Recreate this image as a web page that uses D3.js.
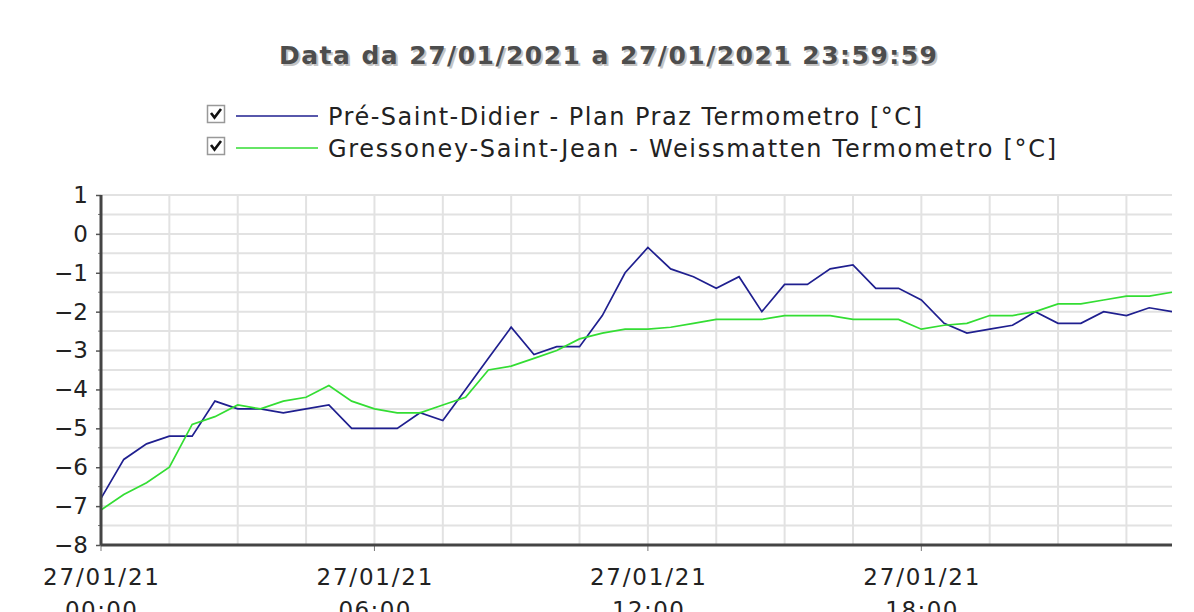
<!DOCTYPE html>
<html>
<head>
<meta charset="utf-8">
<script src="https://cdn.jsdelivr.net/npm/d3@7"></script>
<style>
  body { margin: 0; background: #fff; }
  svg { display: block; }
</style>
</head>
<body>
<svg id="chart"></svg>
<script>
const width = 1194;
const height = 612;

// half-hour readings of 27/01/2021
const times = ["00:00","00:30","01:00","01:30","02:00","02:30","03:00","03:30","04:00","04:30",
               "05:00","05:30","06:00","06:30","07:00","07:30","08:00","08:30","09:00","09:30",
               "10:00","10:30","11:00","11:30","12:00","12:30","13:00","13:30","14:00","14:30",
               "15:00","15:30","16:00","16:30","17:00","17:30","18:00","18:30","19:00","19:30",
               "20:00","20:30","21:00","21:30","22:00","22:30","23:00","23:30"];

const preSaintDidier = [-6.8,-5.8,-5.4,-5.2,-5.2,-4.3,-4.5,-4.5,-4.6,-4.5,
                        -4.4,-5.0,-5.0,-5.0,-4.6,-4.8,-4.0,-3.2,-2.4,-3.1,
                        -2.9,-2.9,-2.1,-1.0,-0.35,-0.9,-1.1,-1.4,-1.1,-2.0,
                        -1.3,-1.3,-0.9,-0.8,-1.4,-1.4,-1.7,-2.3,-2.55,-2.45,
                        -2.35,-2.0,-2.3,-2.3,-2.0,-2.1,-1.9,-2.0];

const gressoney = [-7.1,-6.7,-6.4,-6.0,-4.9,-4.7,-4.4,-4.5,-4.3,-4.2,
                   -3.9,-4.3,-4.5,-4.6,-4.6,-4.4,-4.2,-3.5,-3.4,-3.2,
                   -3.0,-2.7,-2.55,-2.45,-2.45,-2.4,-2.3,-2.2,-2.2,-2.2,
                   -2.1,-2.1,-2.1,-2.2,-2.2,-2.2,-2.45,-2.35,-2.3,-2.1,
                   -2.1,-2.0,-1.8,-1.8,-1.7,-1.6,-1.6,-1.5];

const seriesNames = ["Pré-Saint-Didier - Plan Praz Termometro [°C]",
                     "Gressoney-Saint-Jean - Weissmatten Termometro [°C]"];
const seriesColors = ["#1f1f8f", "#33dd33"];
const yTicks = [1, 0, -1, -2, -3, -4, -5, -6, -7, -8];
const gridHours = [0, 1.5, 3, 4.5, 6, 7.5, 9, 10.5, 12, 13.5, 15, 16.5, 18, 19.5, 21, 22.5];
const labelHours = [0, 6, 12, 18];
const titleText = "Data da 27/01/2021 a 27/01/2021 23:59:59";

const margin = {top: 195, right: 22, bottom: 67, left: 101};
const fontFam = "'DejaVu Sans', Verdana, sans-serif";

let parseTime = d3.timeParse("%Y-%m-%d %H:%M");
let dates = times.map(t => parseTime("2021-01-27 " + t));
let atHour = h => d3.timeMinute.offset(dates[0], h * 60);

let svg = d3.select("#chart")
            .attr("width", width)
            .attr("height", height);

let x = d3.scaleTime()
          .domain([dates[0], dates[dates.length - 1]])
          .range([margin.left, width - margin.right]);

let y = d3.scaleLinear()
          .domain([-8, 1])
          .range([height - margin.bottom, margin.top]);

// grid lines
let hGrid = d3.range(-8, 1.01, 0.5);
svg.append("g")
   .selectAll("line")
   .data(hGrid)
   .enter()
   .append("line")
   .attr("x1", margin.left)
   .attr("x2", width - margin.right)
   .attr("y1", d => y(d))
   .attr("y2", d => y(d))
   .attr("stroke", "#e2e2e2")
   .attr("stroke-width", 2);

svg.append("g")
   .selectAll("line")
   .data(gridHours.map(atHour))
   .enter()
   .append("line")
   .attr("x1", d => x(d))
   .attr("x2", d => x(d))
   .attr("y1", margin.top)
   .attr("y2", height - margin.bottom)
   .attr("stroke", "#e2e2e2")
   .attr("stroke-width", 2);

// lines
let series = [preSaintDidier, gressoney];
let line = d3.line()
             .x((d, i) => x(dates[i]))
             .y(d => y(d));

svg.append("g")
   .selectAll("path")
   .data(series)
   .enter()
   .append("path")
   .attr("d", d => line(d))
   .attr("fill", "none")
   .attr("stroke", (d, i) => seriesColors[i])
   .attr("stroke-width", 1.7);

// y axis
let yAxis = d3.axisLeft(y)
              .tickValues(yTicks)
              .tickSize(5)
              .tickFormat(d3.format("d"));
let yg = svg.append("g")
            .attr("transform", "translate(" + margin.left + ",0)")
            .call(yAxis);
yg.select(".domain").remove();
yg.selectAll(".tick line").attr("stroke", "#555").attr("stroke-width", 1.5);
yg.selectAll(".tick text")
  .attr("fill", "#222")
  .style("font-family", fontFam)
  .style("font-size", "23px")
  .attr("x", -13);

// minor y ticks
svg.append("g")
   .selectAll("line")
   .data(hGrid.filter(d => d % 1 !== 0))
   .enter()
   .append("line")
   .attr("x1", margin.left - 3)
   .attr("x2", margin.left)
   .attr("y1", d => y(d))
   .attr("y2", d => y(d))
   .attr("stroke", "#777");

svg.append("line")
   .attr("x1", margin.left)
   .attr("x2", margin.left)
   .attr("y1", margin.top)
   .attr("y2", height - margin.bottom)
   .attr("stroke", "#444")
   .attr("stroke-width", 3);

// x axis
let xTicks = labelHours.map(atHour);
let xg = svg.append("g")
            .attr("transform", "translate(0," + (height - margin.bottom) + ")");
xg.selectAll("line")
  .data(xTicks)
  .enter()
  .append("line")
  .attr("x1", d => x(d))
  .attr("x2", d => x(d))
  .attr("y1", 0)
  .attr("y2", 6)
  .attr("stroke", "#777");

xg.selectAll("text.l1")
  .data(xTicks)
  .enter()
  .append("text")
  .attr("class", "l1")
  .attr("x", d => x(d))
  .attr("y", 40)
  .attr("text-anchor", "middle")
  .attr("fill", "#222")
  .attr("textLength", 116)
  .attr("lengthAdjust", "spacing")
  .style("font-family", fontFam)
  .style("font-size", "23px")
  .text(d3.timeFormat("%d/%m/%y"));

xg.selectAll("text.l2")
  .data(xTicks)
  .enter()
  .append("text")
  .attr("class", "l2")
  .attr("x", d => x(d))
  .attr("y", 73)
  .attr("text-anchor", "middle")
  .attr("fill", "#222")
  .attr("textLength", 72)
  .attr("lengthAdjust", "spacing")
  .style("font-family", fontFam)
  .style("font-size", "23px")
  .text(d3.timeFormat("%H:%M"));

svg.append("line")
   .attr("x1", margin.left)
   .attr("x2", width - margin.right)
   .attr("y1", height - margin.bottom)
   .attr("y2", height - margin.bottom)
   .attr("stroke", "#444")
   .attr("stroke-width", 3);

// title with soft shadow
svg.append("text")
   .attr("x", 610)
   .attr("y", 66)
   .attr("text-anchor", "middle")
   .attr("fill", "#c4c4c4")
   .attr("textLength", 658)
   .attr("lengthAdjust", "spacing")
   .style("font-family", fontFam)
   .style("font-weight", "bold")
   .style("font-size", "25px")
   .text(titleText);
svg.append("text")
   .attr("x", 608)
   .attr("y", 64)
   .attr("text-anchor", "middle")
   .attr("fill", "#4d4d4d")
   .attr("textLength", 658)
   .attr("lengthAdjust", "spacing")
   .style("font-family", fontFam)
   .style("font-weight", "bold")
   .style("font-size", "25px")
   .text(titleText);

// legend
let legendWidths = [594, 728];
let legend = svg.append("g")
                .selectAll("g")
                .data(seriesNames)
                .enter()
                .append("g")
                .attr("transform", (d, i) => "translate(207," + (116 + i * 32) + ")");

legend.append("rect")
      .attr("x", 0.5)
      .attr("y", -10.5)
      .attr("width", 17)
      .attr("height", 17)
      .attr("fill", "#fff")
      .attr("stroke", "#999")
      .attr("stroke-width", 1.5);
legend.append("path")
      .attr("d", "M4,-3 L7.5,1.5 L14,-7")
      .attr("fill", "none")
      .attr("stroke", "#111")
      .attr("stroke-width", 2.6);
legend.append("line")
      .attr("x1", 29)
      .attr("x2", 111)
      .attr("y1", 0)
      .attr("y2", 0)
      .attr("stroke", (d, i) => seriesColors[i])
      .attr("stroke-width", 1.7);
legend.append("text")
      .attr("x", 121)
      .attr("y", 9)
      .attr("fill", "#222")
      .attr("textLength", (d, i) => legendWidths[i])
      .attr("lengthAdjust", "spacing")
      .style("font-family", fontFam)
      .style("font-size", "24px")
      .text(d => d);
</script>
</body>
</html>
